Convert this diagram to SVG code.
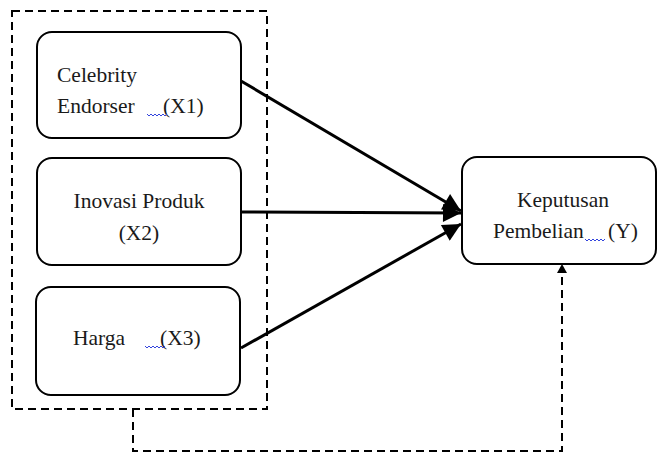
<svg xmlns="http://www.w3.org/2000/svg" width="658" height="454" viewBox="0 0 658 454">
  <defs>
    <marker id="head" viewBox="0 0 10 10" refX="10" refY="5" markerWidth="6.5" markerHeight="6" markerUnits="strokeWidth" orient="auto">
      <path d="M0,0 L10,5 L0,10 Z" fill="#000"/>
    </marker>
  </defs>
  <style>
    .box { fill: #fff; stroke: #000; stroke-width: 2; }
    .lbl { font-family: "Liberation Serif", "Times New Roman", serif; font-size: 21.5px; fill: #1a1a1a; }
    .dash { fill: none; stroke: #000; stroke-width: 2; stroke-dasharray: 8 5; }
    .arrow { fill: none; stroke: #000; stroke-width: 3; marker-end: url(#head); }
    .squiggle { fill: none; stroke: #3344dd; stroke-width: 1; }
  </style>
  <rect width="658" height="454" fill="#fff"/>

  <!-- grouping frame around the independent variables -->
  <rect id="frame" class="dash" x="12" y="11" width="255" height="398"/>

  <g id="x1">
    <rect class="box" x="37" y="32" width="204" height="106" rx="15"/>
    <text class="lbl" x="57" y="82">Celebrity</text>
    <text class="lbl" x="57" y="113">Endorser</text>
    <text class="lbl" x="163" y="113">(X1)</text>
    <path class="squiggle" d="M147,114 l2,2 l2,-2 l2,2 l2,-2 l2,2 l2,-2 l2,2 l2,-2 l2,2 l2,-2"/>
  </g>

  <g id="x2">
    <rect class="box" x="37" y="158" width="204" height="107" rx="15"/>
    <text class="lbl" x="139" y="208" text-anchor="middle">Inovasi Produk</text>
    <text class="lbl" x="139" y="240" text-anchor="middle">(X2)</text>
  </g>

  <g id="x3">
    <rect class="box" x="36" y="287" width="204" height="108" rx="15"/>
    <text class="lbl" x="73" y="345">Harga</text>
    <text class="lbl" x="160" y="345">(X3)</text>
    <path class="squiggle" d="M145,346 l2,2 l2,-2 l2,2 l2,-2 l2,2 l2,-2 l2,2 l2,-2 l2,2 l2,-2"/>
  </g>

  <g id="y">
    <rect class="box" x="462" y="157" width="194" height="107" rx="15"/>
    <text class="lbl" x="563" y="207" text-anchor="middle">Keputusan</text>
    <text class="lbl" x="493" y="238">Pembelian</text>
    <text class="lbl" x="608" y="238">(Y)</text>
    <path class="squiggle" d="M585,239 l2,2 l2,-2 l2,2 l2,-2 l2,2 l2,-2 l2,2 l2,-2 l2,2 l2,-2"/>
  </g>

  <g id="connectors">
    <line class="arrow" x1="241" y1="81" x2="461" y2="211"/>
    <line class="arrow" x1="241" y1="212" x2="461" y2="213"/>
    <line class="arrow" x1="241" y1="348" x2="461" y2="224"/>
    <!-- simultaneous effect: from the frame down and round to Y -->
    <path class="dash" d="M133,409 V451 H562 V272"/>
    <path d="M557,273 L562,264 L567,273 Z" fill="#000"/>
  </g>
</svg>
